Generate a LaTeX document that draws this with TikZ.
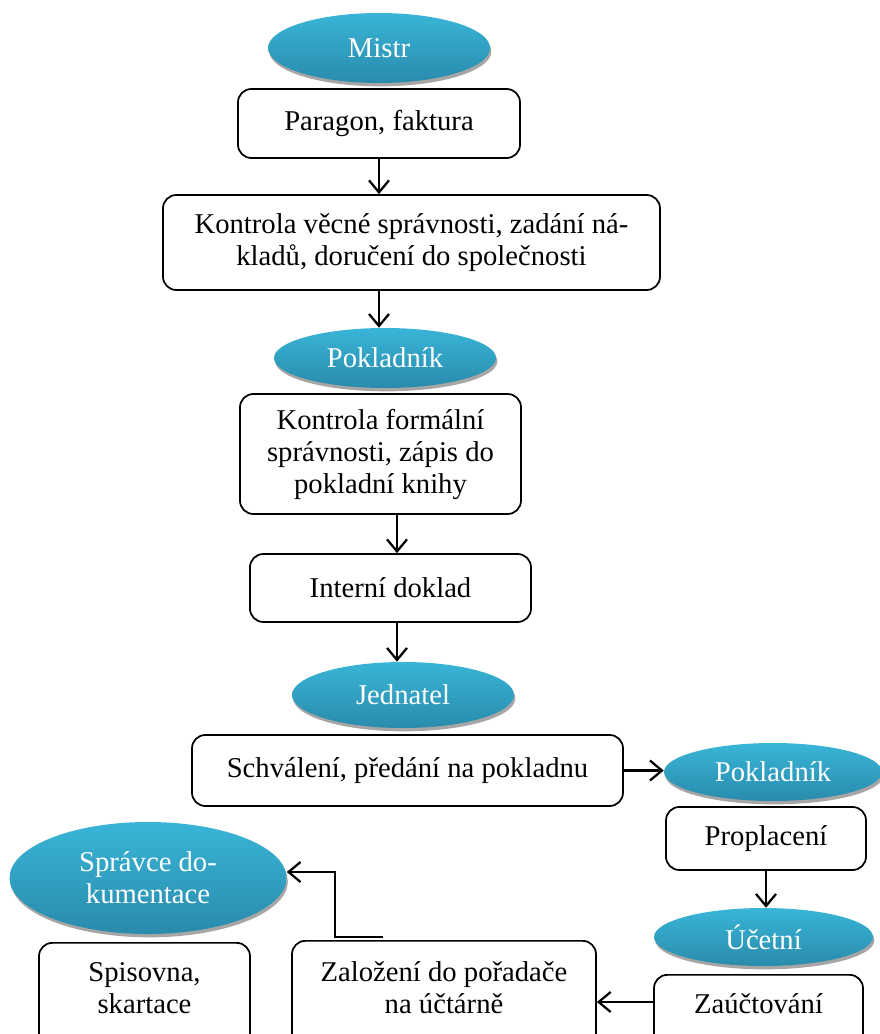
\documentclass[tikz,border=0pt]{standalone}
\usepackage{fontspec}
\setmainfont{Liberation Serif}
\usetikzlibrary{arrows.meta,shapes.geometric,shadows}

\definecolor{elltop}{RGB}{57,181,215}
\definecolor{ellbot}{RGB}{41,139,172}

\tikzset{
    role/.style={ellipse, top color=elltop, bottom color=ellbot, text=white, inner sep=0pt,
        font=\fontsize{21.5}{24}\selectfont, align=center,
        drop shadow={shadow xshift=1pt, shadow yshift=-2.5pt, fill=black!35, opacity=1}},
    task/.style={draw, line width=1.3pt, rounded corners=10pt, align=center, inner sep=0pt,
        font=\fontsize{21.5}{24}\selectfont},
    lbl/.style={anchor=center, align=center, font=\fontsize{21.5}{24}\selectfont},
    arr/.style={line width=1.7pt, -{Straight Barb[length=9pt,width=15pt,line width=1.7pt]}}
}

\begin{document}
\begin{tikzpicture}[x=0.75pt,y=-0.75pt]
    \useasboundingbox (0,0) rectangle (880,1034);

    \node[task, minimum width=211.5pt, minimum height=51.75pt] (parag) at (379,123.5) {Paragon, faktura};
    \node[role, minimum width=166.5pt, minimum height=52.5pt] (mistr) at (379,48) {Mistr};
    \node[task, minimum width=372.75pt, minimum height=71.25pt] (kvecn) at (411.5,242.5) {Kontrola věcné správnosti, zadání ná-\\kladů, doručení do společnosti};
    \node[task, minimum width=210.75pt, minimum height=90pt] (kform) at (380.5,454) {Kontrola formální\\správnosti, zápis do\\pokladní knihy};
    \node[role, minimum width=166.5pt, minimum height=45pt] (pokl) at (385,358) {Pokladník};
    \node[task, minimum width=210.75pt, minimum height=51pt] (intdk) at (390.5,588) {Interní doklad};
    \node[task, minimum width=323.25pt, minimum height=53.25pt] (schval) at (407.5,770.5) {Schválení, předání na pokladnu};
    \node[role, minimum width=166.5pt, minimum height=49.5pt] (jedn) at (403,695) {Jednatel};
    \node[task, minimum width=150pt, minimum height=47.25pt] (propl) at (766,838.5) {Proplacení};
    \node[role, minimum width=163.5pt, minimum height=43.5pt] (pokl2) at (773,772) {Pokladník};
    \node[task, anchor=north, minimum width=156.75pt, minimum height=64.5pt,
        label={[lbl, yshift=-22.5pt]north:Zaúčtování}] (zauct) at (758.5,974) {};
    \node[role, minimum width=164.25pt, minimum height=43.5pt] (ucet) at (763.5,937) {Účetní};
    \node[task, anchor=north, minimum width=228pt, minimum height=90pt,
        label={[lbl, yshift=-36pt]north:{Založení do pořadače\\na účtárně}}] (zaloz) at (444,940) {};
    \node[task, anchor=north, minimum width=158.25pt, minimum height=88.5pt,
        label={[lbl, yshift=-34.5pt]north:{Spisovna,\\skartace}}] (spis) at (144.5,942) {};
    \node[role, minimum width=207.75pt, minimum height=84pt] (sprav) at (148,878) {Správce do-\\kumentace};

    \coordinate (ax) at (397,0);
    \coordinate (ay) at (0,1002);
    \coordinate (zs) at (383,937);
    \coordinate (zk) at (335,872);

    \draw[arr] (parag.south) -- (kvecn.north -| parag.south);
    \draw[arr] (kvecn.south -| parag.south) -- (pokl.north -| parag.south);
    \draw[arr] (kform.south -| ax) -- (intdk.north -| ax);
    \draw[arr] (intdk.south -| ax) -- (jedn.north -| ax);
    \draw[arr] (schval.east) -- (pokl2.west |- schval.east);
    \draw[arr] (propl.south) -- (ucet.north -| propl.south);
    \draw[arr] (zauct.west |- ay) -- (zaloz.east |- ay);
    \draw[arr] (zs) -| (zk) -- (zk -| sprav.east);
\end{tikzpicture}
\end{document}
